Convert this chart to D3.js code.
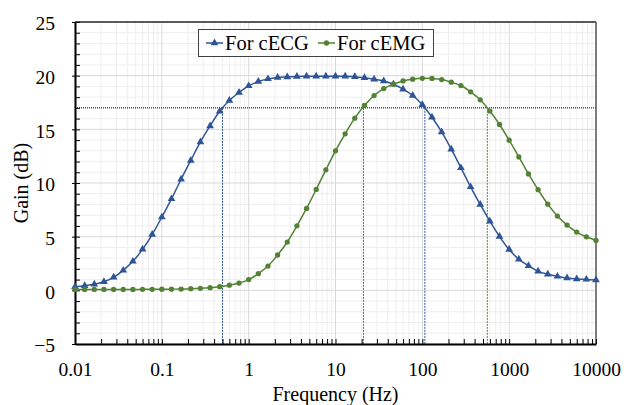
<!DOCTYPE html>
<html>
<head>
<meta charset="utf-8">
<script src="https://cdn.jsdelivr.net/npm/d3@7"></script>
<style>
  body { margin: 0; background: #fff; }
  text { font-family: "Liberation Serif", "Times New Roman", serif !important; fill: #000; }
</style>
</head>
<body>
<svg id="chart" width="624" height="405"></svg>
<script>
// Data (9 points per decade)
const freqs = [
  0.01, 0.012915, 0.016681, 0.021544, 0.027826, 0.035938, 0.046416, 0.059948, 0.077426,
  0.1, 0.12915, 0.16681, 0.21544, 0.27826, 0.35938, 0.46416, 0.59948, 0.77426,
  1, 1.2915, 1.6681, 2.1544, 2.7826, 3.5938, 4.6416, 5.9948, 7.7426,
  10, 12.915, 16.681, 21.544, 27.826, 35.938, 46.416, 59.948, 77.426,
  100, 129.15, 166.81, 215.44, 278.26, 359.38, 464.16, 599.48, 774.26,
  1000, 1291.5, 1668.1, 2154.4, 2782.6, 3593.8, 4641.6, 5994.8, 7742.6,
  10000
];
const gainECG = [
  0.34, 0.43, 0.56, 0.80, 1.21, 1.86, 2.70, 3.82, 5.20,
  6.82, 8.52, 10.35, 12.10, 13.83, 15.32, 16.69, 17.69, 18.43,
  19.05, 19.45, 19.70, 19.83, 19.88, 19.92, 19.94, 19.95, 19.95,
  19.95, 19.94, 19.90, 19.80, 19.67, 19.50, 19.20, 18.74, 18.15,
  17.30, 16.13, 14.76, 13.15, 11.41, 9.64, 8.00, 6.44, 5.01,
  3.80, 2.89, 2.29, 1.77, 1.49, 1.30, 1.14, 1.05, 1.02,
  0.96
];
const gainEMG = [
  0.08, 0.08, 0.08, 0.08, 0.08, 0.08, 0.08, 0.09, 0.09,
  0.10, 0.11, 0.12, 0.15, 0.19, 0.25, 0.34, 0.48, 0.68,
  1.00, 1.55, 2.26, 3.29, 4.50, 6.01, 7.63, 9.40, 11.23,
  13.00, 14.58, 16.04, 17.22, 18.15, 18.80, 19.20, 19.51, 19.67,
  19.75, 19.74, 19.64, 19.39, 19.08, 18.49, 17.75, 16.70, 15.45,
  13.99, 12.43, 10.85, 9.38, 8.03, 6.92, 6.08, 5.43, 4.99,
  4.65
];
const seriesNames = ["For cECG", "For cEMG"];
const xTicks = [0.01, 0.1, 1, 10, 100, 1000, 10000];
const xTickLabels = ["0.01", "0.1", "1", "10", "100", "1000", "10000"];
const yTicks = [-5, 0, 5, 10, 15, 20, 25];
const cutoffGain = 17;           // horizontal dotted line
const cutoffECG = [0.5, 107];    // blue dashed verticals
const cutoffEMG = [21, 560];     // green dashed verticals

const blue = "#2f5597";
const green = "#548235";
const serif = '"Liberation Serif", "Times New Roman", serif';

const svg = d3.select("#chart");
const margin = { top: 22, right: 28, bottom: 61, left: 75 };
const width = +svg.attr("width") - margin.left - margin.right;
const height = +svg.attr("height") - margin.top - margin.bottom;

const g = svg.append("g").attr("transform", `translate(${margin.left},${margin.top})`);

const x = d3.scaleLog().domain([0.01, 10000]).range([0, width]);
const y = d3.scaleLinear().domain([-5, 25]).range([height, 0]);

// Grid lines: minor first, then major
const minorX = x.ticks().filter((t) => !xTicks.includes(t));
const minorY = d3.range(-5, 26, 1).filter((t) => !yTicks.includes(t));

g.selectAll(".gx-minor").data(minorX).join("line")
  .attr("x1", (d) => x(d)).attr("x2", (d) => x(d))
  .attr("y1", 0).attr("y2", height)
  .attr("stroke", "#eeeeee").attr("stroke-width", 1);
g.selectAll(".gy-minor").data(minorY).join("line")
  .attr("x1", 0).attr("x2", width)
  .attr("y1", (d) => y(d)).attr("y2", (d) => y(d))
  .attr("stroke", "#eeeeee").attr("stroke-width", 1);
g.selectAll(".gx-major").data(xTicks).join("line")
  .attr("x1", (d) => x(d)).attr("x2", (d) => x(d))
  .attr("y1", 0).attr("y2", height)
  .attr("stroke", "#d9d9d9").attr("stroke-width", 1);
g.selectAll(".gy-major").data(yTicks).join("line")
  .attr("x1", 0).attr("x2", width)
  .attr("y1", (d) => y(d)).attr("y2", (d) => y(d))
  .attr("stroke", "#d9d9d9").attr("stroke-width", 1);

// Cut-off guide lines
g.append("line")
  .attr("x1", 0).attr("x2", width)
  .attr("y1", y(cutoffGain)).attr("y2", y(cutoffGain))
  .attr("stroke", "#000").attr("stroke-width", 1).attr("stroke-dasharray", "1,1");

const guides = cutoffECG.map((f) => ({ f, c: blue })).concat(cutoffEMG.map((f) => ({ f, c: green })));
g.selectAll(".guide").data(guides).join("line")
  .attr("x1", (d) => x(d.f)).attr("x2", (d) => x(d.f))
  .attr("y1", y(cutoffGain)).attr("y2", height)
  .attr("stroke", (d) => d.c).attr("stroke-width", 1).attr("stroke-dasharray", "2,1");

// Frame: gray top/right, black left/bottom
g.append("line").attr("x1", 0).attr("x2", width).attr("y1", 0).attr("y2", 0)
  .attr("stroke", "#595959").attr("stroke-width", 2);
g.append("line").attr("x1", width).attr("x2", width).attr("y1", 0).attr("y2", height)
  .attr("stroke", "#595959").attr("stroke-width", 1.5);

// Axes
const yAxisMinor = d3.axisLeft(y).tickValues(minorY).tickSize(-5).tickFormat("");
g.append("g").call(yAxisMinor).call((s) => s.select(".domain").remove())
  .selectAll("line").attr("stroke", "#000");
const yAxis = d3.axisLeft(y).tickValues(yTicks).tickSizeInner(3).tickSizeOuter(0).tickPadding(17);
const ya = g.append("g").call(yAxis).attr("font-family", serif);
ya.select(".domain").attr("stroke", "#000").attr("stroke-width", 2);
ya.selectAll(".tick line").attr("x2", 5).attr("x1", -3).attr("stroke", "#000");
ya.selectAll(".tick text").attr("font-size", 19.5).style("font-family", serif).attr("dy", "0.4em");

const xAxisMinor = d3.axisBottom(x).tickValues(minorX).tickSize(-5).tickFormat("");
g.append("g").attr("transform", `translate(0,${height})`).call(xAxisMinor)
  .call((s) => s.select(".domain").remove())
  .selectAll("line").attr("stroke", "#000");
const xAxis = d3.axisBottom(x).tickValues(xTicks).tickSize(-5).tickSizeOuter(0)
  .tickFormat((d, i) => xTickLabels[i]);
const xa = g.append("g").attr("transform", `translate(0,${height})`).call(xAxis).attr("font-family", serif);
xa.select(".domain").attr("stroke", "#000").attr("stroke-width", 2);
xa.selectAll(".tick line").attr("stroke", "#000");
xa.selectAll(".tick text").attr("font-size", 19.5).style("font-family", serif)
  .attr("y", 0).attr("dy", 0).attr("transform", "translate(0,32)");

// Axis titles
svg.append("text")
  .attr("x", margin.left + width / 2).attr("y", 401)
  .attr("text-anchor", "middle").attr("font-size", 20)
  .text("Frequency (Hz)");
svg.append("text")
  .attr("transform", `translate(28,${margin.top + height / 2}) rotate(-90)`)
  .attr("text-anchor", "middle").attr("font-size", 20)
  .text("Gain (dB)");

// Series
const series = [
  { name: seriesNames[0], values: gainECG, color: blue, symbol: d3.symbolTriangle, size: 26 },
  { name: seriesNames[1], values: gainEMG, color: green, symbol: d3.symbolCircle, size: 22 }
];
const line = d3.line()
  .x((d) => x(d.f))
  .y((d) => y(d.v))
  .curve(d3.curveCatmullRom);

series.forEach((s) => {
  const pts = freqs.map((f, i) => ({ f, v: s.values[i] }));
  g.append("path").datum(pts)
    .attr("fill", "none").attr("stroke", s.color).attr("stroke-width", 1.5)
    .attr("d", line);
  g.selectAll(null).data(pts).join("path")
    .attr("transform", (d) => `translate(${x(d.f)},${y(d.v)})`)
    .attr("d", d3.symbol().type(s.symbol).size(s.size))
    .attr("fill", s.color);
});

// Legend
const legend = svg.append("g");
legend.append("rect")
  .attr("x", 198.5).attr("y", 29.5).attr("width", 235).attr("height", 27)
  .attr("fill", "#fff").attr("stroke", "#404040").attr("stroke-width", 1);
const legendPos = [206, 318];
series.forEach((s, i) => {
  const lx = legendPos[i];
  legend.append("line")
    .attr("x1", lx).attr("x2", lx + 17).attr("y1", 43).attr("y2", 43)
    .attr("stroke", s.color).attr("stroke-width", 1.5);
  legend.append("path")
    .attr("transform", `translate(${lx + 8.5},43)`)
    .attr("d", d3.symbol().type(s.symbol).size(s.size))
    .attr("fill", s.color);
  legend.append("text")
    .attr("x", lx + 19).attr("y", 50)
    .attr("font-size", 20.5)
    .text(s.name);
});
</script>
</body>
</html>
